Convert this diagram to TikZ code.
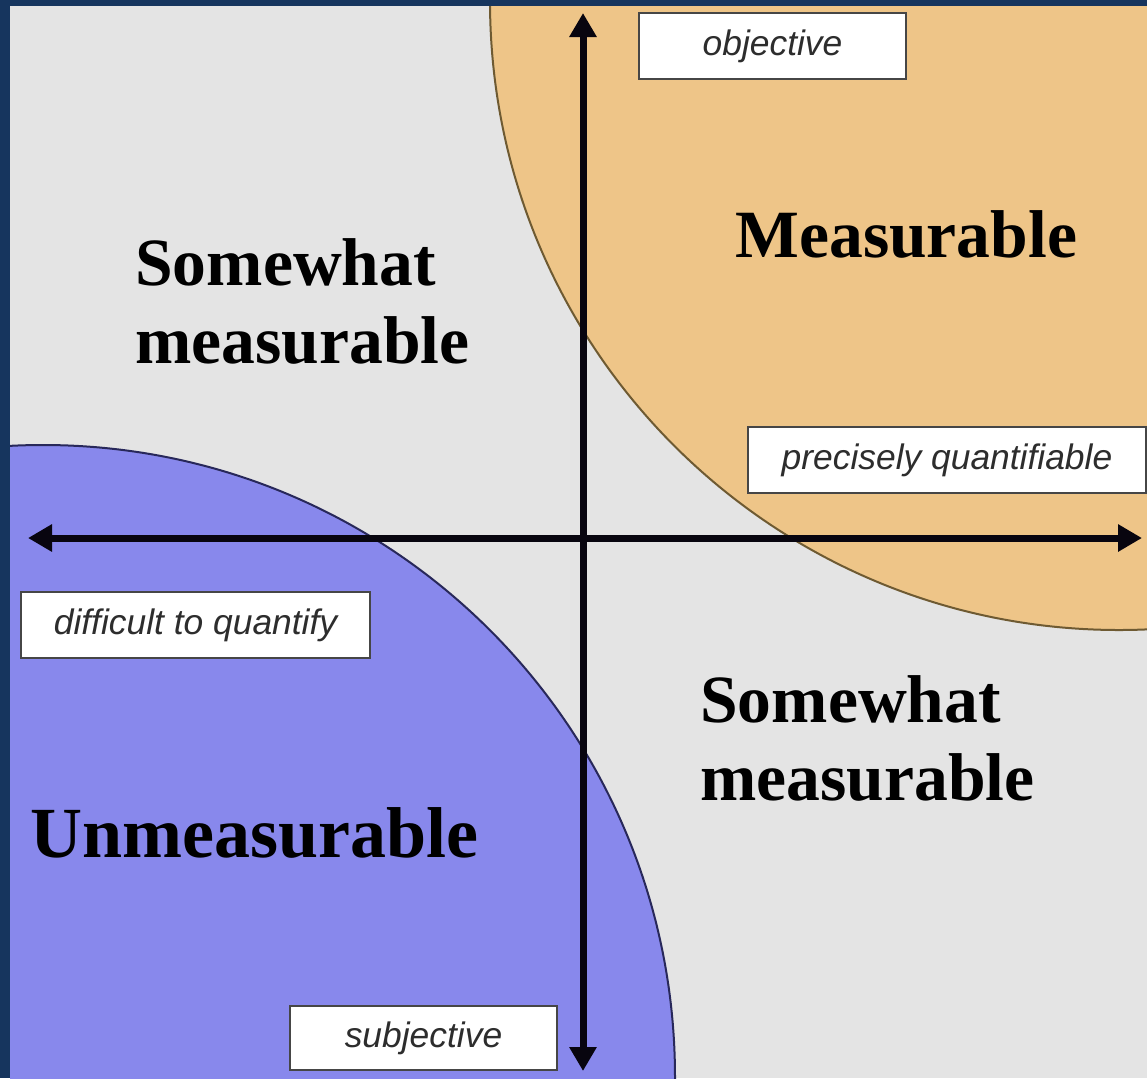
\documentclass[tikz,border=0pt]{standalone}
\usepackage{fontspec}
\setmainfont{Liberation Serif}
\newfontfamily\labelfont{Liberation Sans}
\usetikzlibrary{arrows.meta}
\definecolor{navy}{RGB}{22,53,94}
\definecolor{bggray}{RGB}{228,228,228}
\definecolor{orangefill}{RGB}{238,197,136}
\definecolor{orangeline}{RGB}{110,90,50}
\definecolor{bluefill}{RGB}{136,136,236}
\definecolor{blueline}{RGB}{40,40,90}
\definecolor{boxline}{RGB}{70,70,70}
\definecolor{labeltext}{RGB}{45,45,45}
\definecolor{axiscol}{RGB}{8,5,15}
\tikzset{
  tagbox/.style={draw=boxline, line width=1pt, fill=white, inner sep=0pt,
    minimum height=33pt, text=labeltext,
    font=\labelfont\itshape\fontsize{17.7}{20}\selectfont},
  heading/.style={anchor=base west, inner sep=0pt, align=left,
    font=\bfseries\fontsize{33.8}{39}\selectfont},
  axisarrow/.style={draw=axiscol, line width=3.5pt,
    -{Triangle[length=12pt,width=13pt]}}
}
\begin{document}
\begin{tikzpicture}[x=0.5pt,y=-0.5pt]
  \useasboundingbox (0,0) rectangle (1147,1078);
  \fill[navy] (0,0) rectangle (1147,1078);
  \fill[bggray] (10,6) rectangle (1147,1078);
  \begin{scope}
    \clip (10,6) rectangle (1147,1078);
    \filldraw[fill=orangefill, draw=orangeline, line width=1pt] (1119,1) circle [radius=314.5pt];
    \filldraw[fill=bluefill, draw=blueline, line width=1pt] (43,1077) circle [radius=316pt];
  \end{scope}
  % axes
  \coordinate (top) at (583,13);
  \coordinate (bottom) at (583,1071);
  \coordinate (left) at (28,538);
  \coordinate (right) at (1142,538);
  \coordinate (center) at (583,538);
  \draw[axisarrow] (center) -- (top);
  \draw[axisarrow] (center) -- (bottom);
  \draw[axisarrow] (center) -- (left);
  \draw[axisarrow] (center) -- (right);
  % label boxes
  \node[tagbox, minimum width=133.5pt] (objective) at (772.5,46) {objective};
  \node[tagbox, minimum width=199pt] (precise) at (947,460) {precisely quantifiable};
  \node[tagbox, minimum width=174.5pt] (difficult) at (195.5,625) {difficult to quantify};
  \node[tagbox, minimum width=133.5pt, minimum height=32pt] (subjective) at (423.5,1038) {subjective};
  % headings
  \node[heading] (meas) at (735,257) {Measurable};
  \node[heading] (swleft) at (135,363) {Somewhat\\measurable};
  \node[heading] (swright) at (700,800) {Somewhat\\measurable};
  \node[heading, font=\bfseries\fontsize{36}{40}\selectfont] (unmeas) at (30,857) {Unmeasurable};
\end{tikzpicture}
\end{document}
